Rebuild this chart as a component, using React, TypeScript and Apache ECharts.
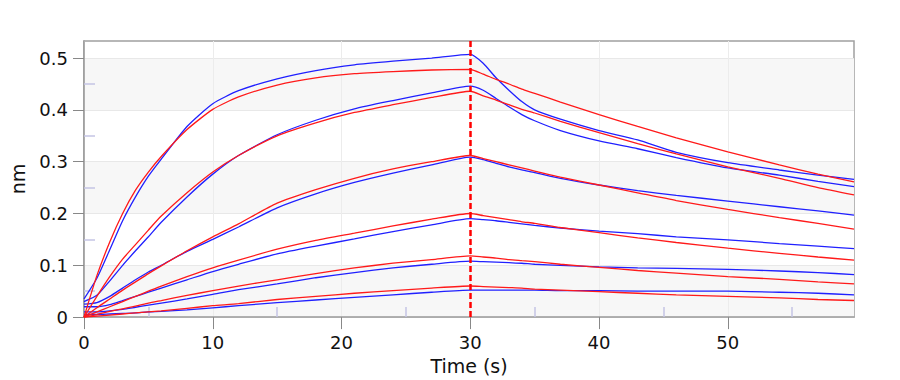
import React, { useEffect, useRef } from "react";
import * as echarts from "echarts";

const times = [0, 1, 2, 3, 4, 5, 6, 8, 10, 12, 15, 18, 21, 24, 27, 30, 31, 32, 33, 34, 35, 37, 40, 43, 46, 50, 54, 57, 59.8];
const switchTime = 30;

// measured (blue) curves, highest concentration first
const measured1 = [0.035, 0.075, 0.13, 0.186, 0.232, 0.272, 0.305, 0.368, 0.412, 0.437, 0.46, 0.476, 0.487, 0.494, 0.5, 0.507, 0.49, 0.462, 0.438, 0.416, 0.4, 0.382, 0.36, 0.342, 0.318, 0.298, 0.284, 0.274, 0.266];
const measured2 = [0.03, 0.042, 0.07, 0.1, 0.128, 0.155, 0.183, 0.232, 0.276, 0.312, 0.352, 0.38, 0.402, 0.418, 0.433, 0.446, 0.438, 0.422, 0.406, 0.391, 0.379, 0.36, 0.34, 0.325, 0.308, 0.288, 0.274, 0.262, 0.252];
const measured3 = [0.025, 0.028, 0.04, 0.056, 0.072, 0.087, 0.1, 0.127, 0.15, 0.174, 0.211, 0.238, 0.26, 0.278, 0.294, 0.309, 0.304, 0.297, 0.29, 0.284, 0.279, 0.268, 0.255, 0.244, 0.235, 0.224, 0.213, 0.205, 0.197];
const measured4 = [0.02, 0.02, 0.024, 0.032, 0.04, 0.048, 0.056, 0.072, 0.088, 0.102, 0.122, 0.137, 0.151, 0.165, 0.178, 0.19, 0.188, 0.186, 0.183, 0.18, 0.177, 0.172, 0.166, 0.161, 0.155, 0.149, 0.142, 0.137, 0.132];
const measured5 = [0.01, 0.01, 0.012, 0.015, 0.019, 0.023, 0.027, 0.035, 0.044, 0.053, 0.064, 0.076, 0.086, 0.095, 0.102, 0.108, 0.107, 0.106, 0.105, 0.104, 0.102, 0.1, 0.097, 0.095, 0.094, 0.092, 0.089, 0.086, 0.082];
const measured6 = [0.005, 0.005, 0.006, 0.007, 0.008, 0.01, 0.011, 0.014, 0.018, 0.022, 0.028, 0.033, 0.038, 0.043, 0.048, 0.052, 0.052, 0.052, 0.052, 0.052, 0.052, 0.051, 0.051, 0.05, 0.05, 0.05, 0.048, 0.046, 0.043];

// fitted (red) curves
const fitted1 = [0, 0.08, 0.145, 0.2, 0.245, 0.28, 0.31, 0.362, 0.401, 0.425, 0.448, 0.462, 0.47, 0.474, 0.477, 0.478, 0.469, 0.459, 0.45, 0.44, 0.432, 0.415, 0.391, 0.368, 0.346, 0.319, 0.294, 0.276, 0.261];
const fitted2 = [0, 0.04, 0.078, 0.112, 0.14, 0.168, 0.195, 0.24, 0.28, 0.312, 0.35, 0.375, 0.395, 0.41, 0.424, 0.436, 0.427, 0.419, 0.41, 0.401, 0.394, 0.378, 0.356, 0.335, 0.315, 0.29, 0.268, 0.25, 0.236];
const fitted3 = [0, 0.018, 0.035, 0.052, 0.068, 0.084, 0.099, 0.128, 0.155, 0.18, 0.22, 0.246, 0.268, 0.286, 0.3, 0.312, 0.306, 0.3, 0.294, 0.288, 0.282, 0.27, 0.255, 0.24, 0.225, 0.208, 0.192, 0.181, 0.17];
const fitted4 = [0, 0.01, 0.02, 0.03, 0.04, 0.05, 0.06, 0.078, 0.095, 0.11, 0.131, 0.148, 0.162, 0.176, 0.189, 0.2, 0.196, 0.192, 0.188, 0.184, 0.181, 0.173, 0.163, 0.153, 0.144, 0.133, 0.123, 0.116, 0.11];
const fitted5 = [0, 0.005, 0.011, 0.016, 0.021, 0.027, 0.032, 0.042, 0.051, 0.06, 0.072, 0.084, 0.095, 0.104, 0.111, 0.118, 0.116, 0.114, 0.111, 0.109, 0.107, 0.102, 0.096, 0.09, 0.085, 0.078, 0.073, 0.068, 0.064];
const fitted6 = [0, 0.002, 0.004, 0.006, 0.008, 0.01, 0.012, 0.017, 0.022, 0.026, 0.034, 0.04, 0.046, 0.051, 0.056, 0.06, 0.059, 0.058, 0.057, 0.056, 0.054, 0.052, 0.049, 0.046, 0.043, 0.04, 0.037, 0.034, 0.032];

const measuredSets = [measured1, measured2, measured3, measured4, measured5, measured6];
const fittedSets = [fitted1, fitted2, fitted3, fitted4, fitted5, fitted6];

const xTicks = [0, 10, 20, 30, 40, 50];
const xMinorTicks = [5, 15, 25, 35, 45, 55];
const yTicks = [0, 0.1, 0.2, 0.3, 0.4, 0.5];
const yMinorTicks = [0.05, 0.15, 0.25, 0.35, 0.45];

const FONT = "'DejaVu Sans', Verdana, sans-serif";

export default function App() {
  const ref = useRef<HTMLDivElement>(null);
  useEffect(() => {
    if (!ref.current) return;
    const chart = echarts.init(ref.current, null, { renderer: "svg" });
    const series: any[] = [];
    measuredSets.forEach((vals, i) => {
      series.push({
        type: "line",
        name: "measured" + (i + 1),
        data: times.map((t, j) => [t, vals[j]]),
        showSymbol: false,
        smooth: 0.2,
        lineStyle: { color: "#2020ff", width: 1.3 },
        z: 3,
      });
    });
    fittedSets.forEach((vals, i) => {
      series.push({
        type: "line",
        name: "fitted" + (i + 1),
        data: times.map((t, j) => [t, vals[j]]),
        showSymbol: false,
        smooth: 0.2,
        lineStyle: { color: "#ff1a1a", width: 1.3 },
        z: 4,
        markLine:
          i === 0
            ? {
                silent: true,
                symbol: "none",
                label: { show: false },
                lineStyle: { color: "#ff0000", width: 2.5, type: [6, 3] },
                data: [{ xAxis: switchTime }],
                z: 5,
              }
            : undefined,
      });
    });
    chart.setOption({
      animation: false,
      backgroundColor: "#ffffff",
      textStyle: { fontFamily: FONT },
      grid: {
        left: 77,
        right: 46,
        top: 41,
        bottom: 60,
        show: true,
        borderColor: "#a0a0a0",
        borderWidth: 1.5,
        backgroundColor: "transparent",
      },
      xAxis: [
        {
          type: "value",
          min: 0,
          max: 59.8,
          interval: 10,
          name: "Time (s)",
          nameLocation: "middle",
          nameGap: 38,
          nameTextStyle: { fontSize: 19, color: "#111", fontFamily: FONT },
          axisLine: { show: true, lineStyle: { color: "#999", width: 1.5 } },
          axisTick: { show: true, length: 12, lineStyle: { color: "#888" }, customValues: xTicks },
          axisLabel: { fontSize: 18, color: "#111", margin: 16, fontFamily: FONT, customValues: xTicks },
          splitLine: { show: true, lineStyle: { color: "#ececec", width: 1 } },
        },
        {
          type: "value",
          position: "bottom",
          min: 0,
          max: 59.8,
          interval: 5,
          axisLine: { show: false },
          axisTick: { show: true, inside: true, length: 10, lineStyle: { color: "#c4c4e4", width: 1.5 }, customValues: xMinorTicks },
          axisLabel: { show: false },
          splitLine: { show: false },
        },
      ],
      yAxis: [
        {
          type: "value",
          min: 0,
          max: 0.533,
          interval: 0.1,
          name: "nm",
          nameLocation: "middle",
          nameGap: 57,
          nameTextStyle: { fontSize: 19, color: "#111", fontFamily: FONT },
          axisLine: { show: true, lineStyle: { color: "#999", width: 1.5 } },
          axisTick: { show: true, length: 11, lineStyle: { color: "#888" }, customValues: yTicks },
          axisLabel: { fontSize: 18, color: "#111", margin: 16, fontFamily: FONT, customValues: yTicks },
          splitLine: { show: true, lineStyle: { color: "#e8e8e8", width: 1 } },
          splitArea: { show: true, areaStyle: { color: ["#f7f7f7", "#ffffff"] } },
        },
        {
          type: "value",
          position: "left",
          min: 0,
          max: 0.533,
          interval: 0.05,
          axisLine: { show: false },
          axisTick: { show: true, inside: true, length: 11, lineStyle: { color: "#c4c4e4", width: 1.5 }, customValues: yMinorTicks },
          axisLabel: { show: false },
          splitLine: { show: false },
        },
      ],
      series,
    });
    return () => chart.dispose();
  }, []);
  return <div ref={ref} style={{ width: 900, height: 380, position: "absolute", left: 0, top: 0 }} />;
}
